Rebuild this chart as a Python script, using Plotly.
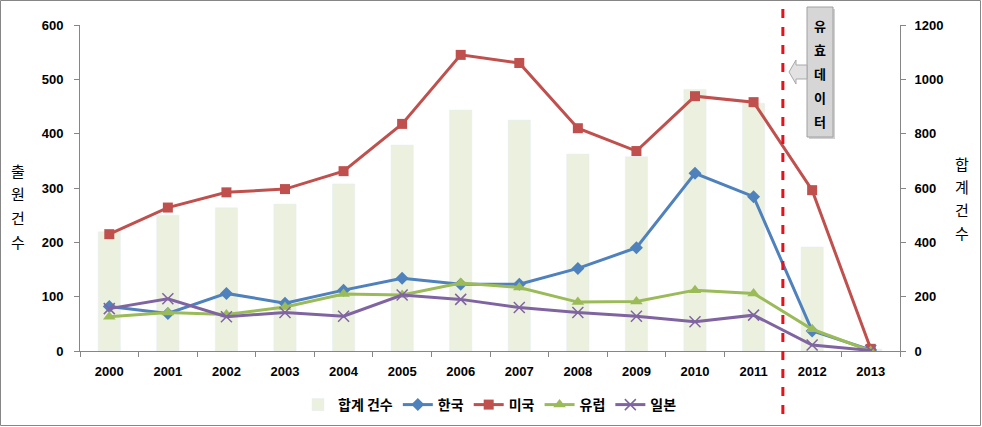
import plotly.graph_objects as go

years = ["2000", "2001", "2002", "2003", "2004", "2005", "2006",
         "2007", "2008", "2009", "2010", "2011", "2012", "2013"]
total = [439, 500, 527, 541, 615, 758, 887, 850, 725, 715, 963, 912, 383, 7]
korea = [82, 69, 106, 88, 112, 134, 123, 123, 152, 190, 327, 284, 37, 2]
usa = [215, 264, 292, 298, 331, 418, 545, 530, 410, 368, 469, 458, 296, 4]
europe = [63, 71, 67, 81, 105, 103, 125, 117, 90, 91, 112, 106, 40, 0]
japan = [78, 96, 63, 71, 64, 103, 95, 80, 71, 64, 54, 66, 11, 1]

left_title = "출원건수"
right_title = "합계건수"
callout = "유효데이터"

W, H = 982, 427
L, R, T, B = 80, 82, 25, 76
PW, PH = W - L - R, H - T - B


def px(x):
    return (x - L) / PW


def py(y):
    return (H - B - y) / PH


fig = go.Figure()
fig.add_trace(go.Bar(x=years, y=total, name="합계 건수", marker_color="#EBF1DE",
                     width=0.38, yaxis="y"))
fig.add_trace(go.Scatter(x=years, y=korea, name="한국", mode="lines+markers", yaxis="y2",
                         line=dict(color="#4F81BD", width=3),
                         marker=dict(symbol="diamond", size=10, color="#4F81BD")))
fig.add_trace(go.Scatter(x=years, y=usa, name="미국", mode="lines+markers", yaxis="y2",
                         line=dict(color="#C0504D", width=3),
                         marker=dict(symbol="square", size=10, color="#C0504D")))
fig.add_trace(go.Scatter(x=years, y=europe, name="유럽", mode="lines+markers", yaxis="y2",
                         line=dict(color="#9BBB59", width=3),
                         marker=dict(symbol="triangle-up", size=11, color="#9BBB59")))
fig.add_trace(go.Scatter(x=years, y=japan, name="일본", mode="lines+markers", yaxis="y2",
                         line=dict(color="#8064A2", width=3),
                         marker=dict(symbol="x-thin", size=11,
                                     line=dict(color="#8064A2", width=1.5))))

tickfont = dict(family="Liberation Sans, Arial", size=13, color="black", weight="bold")
axis_common = dict(showline=True, linecolor="#868686", linewidth=1, ticks="outside",
                   tickcolor="#868686", ticklen=5, showgrid=False, zeroline=False,
                   tickfont=tickfont, automargin=False)

shapes = []
# outer border
shapes.append(dict(type="rect", xref="paper", yref="paper",
                   x0=px(0.5), x1=px(W - 1.5), y0=py(H - 1.5), y1=py(0.5),
                   line=dict(color="#868686", width=1), fillcolor="rgba(0,0,0,0)", layer="below"))
# dashed separator between 2011 and 2012
shapes.append(dict(type="line", xref="x", yref="paper", x0=11.5, x1=11.5,
                   y0=py(414), y1=py(5), line=dict(color="#E8101A", width=3, dash="dash")))
# callout shadow + box
shapes.append(dict(type="rect", xref="paper", yref="paper",
                   x0=px(809), x1=px(835), y0=py(139), y1=py(9),
                   line=dict(width=0), fillcolor="rgba(0,0,0,0.18)"))
shapes.append(dict(type="rect", xref="paper", yref="paper",
                   x0=px(807), x1=px(833), y0=py(137), y1=py(7),
                   line=dict(color="#A0A0A0", width=1), fillcolor="#D6D6D6"))
# arrow pointing left
pts = [(789, 72), (796, 60), (796, 65), (807, 65), (807, 79), (796, 79), (796, 84)]
path = "M " + " L ".join(f"{px(a):.5f},{py(b):.5f}" for a, b in pts) + " Z"
shapes.append(dict(type="path", xref="paper", yref="paper", path=path,
                   line=dict(color="#A8A8A8", width=1), fillcolor="#E2E2E2"))

annotations = []
title_font = dict(family="Noto Sans CJK KR", size=15, color="black")
for i, ch in enumerate(left_title):
    annotations.append(dict(text=ch, xref="paper", yref="paper", x=px(18), y=py(170 + 23.7 * i),
                            xanchor="center", yanchor="middle", showarrow=False, font=title_font))
for i, ch in enumerate(right_title):
    annotations.append(dict(text=ch, xref="paper", yref="paper", x=px(962), y=py(163 + 23.3 * i),
                            xanchor="center", yanchor="middle", showarrow=False, font=title_font))
for i, ch in enumerate(callout):
    annotations.append(dict(text=ch, xref="paper", yref="paper", x=px(820), y=py(25 + 24.2 * i),
                            xanchor="center", yanchor="middle", showarrow=False,
                            font=dict(family="Noto Sans CJK KR", size=13, color="black",
                                      weight="bold")))

fig.update_layout(
    width=W, height=H,
    margin=dict(l=L, r=R, t=T, b=B, autoexpand=False),
    paper_bgcolor="white", plot_bgcolor="white",
    xaxis=dict(type="category", range=[-0.5, 13.5], tickson="boundaries",
               ticklabelstandoff=8, **axis_common),
    yaxis=dict(side="right", range=[0, 1200], dtick=200, ticklabelstandoff=6, **axis_common),
    yaxis2=dict(side="left", overlaying="y", range=[0, 600], dtick=100,
                ticklabelstandoff=8, **axis_common),
    legend=dict(orientation="h", x=0.5, xanchor="center", y=py(405), yanchor="middle",
                font=dict(family="Noto Sans CJK KR", size=14, color="black", weight="bold"),
                itemwidth=30, bgcolor="rgba(0,0,0,0)"),
    shapes=shapes,
    annotations=annotations,
    showlegend=True,
)

fig.write_html("out.html")
